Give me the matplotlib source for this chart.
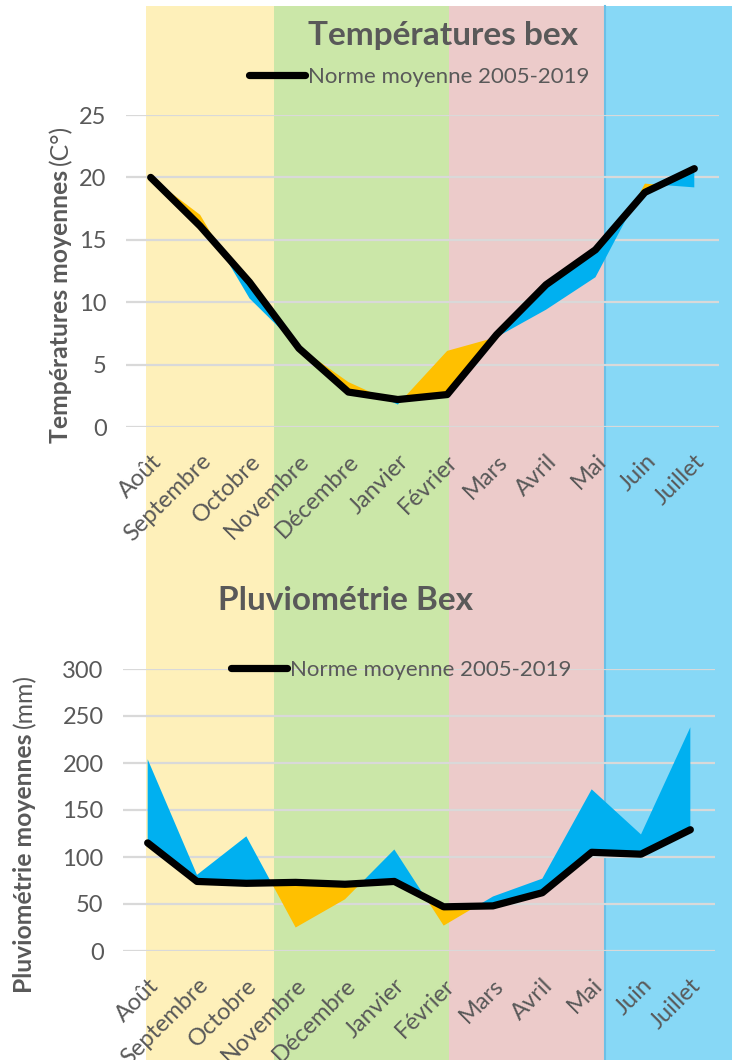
import matplotlib
matplotlib.use("Agg")
import matplotlib.pyplot as plt
from matplotlib.lines import Line2D
import numpy as np

plt.rcParams['font.family'] = ['Lato', 'DejaVu Sans']

months = ['Août', 'Septembre', 'Octobre', 'Novembre', 'Décembre', 'Janvier',
          'Février', 'Mars', 'Avril', 'Mai', 'Juin', 'Juillet']
temp_norm = [20.0, 16.1, 11.6, 6.3, 2.8, 2.2, 2.6, 7.4, 11.4, 14.2, 18.8, 20.7]
temp_year = [20.0, 17.0, 10.3, 6.4, 3.6, 1.8, 6.1, 7.2, 9.4, 12.0, 19.5, 19.2]
rain_norm = [115, 74, 72, 73, 71, 74, 47, 48, 62, 105, 103, 129]
rain_year = [204, 81, 122, 25, 55, 108, 27, 58, 77, 172, 124, 238]
temp_ticks = [0, 5, 10, 15, 20, 25]
rain_ticks = [0, 50, 100, 150, 200, 250, 300]
legend_label = 'Norme moyenne 2005-2019'

W, H = 732, 1060
fig = plt.figure(figsize=(W / 100, H / 100), dpi=100)

GREY = '#595959'
ORANGE = '#FFC000'
BLUE = '#00B0F0'

# background season bands (figure pixel layout)
bg = fig.add_axes([0, 0, 1, 1])
bg.set_xlim(0, W)
bg.set_ylim(H, 0)
bg.axis('off')
bands = [(146, 274, '#FEF0BA'), (274, 449, '#CBE7A8'),
         (449, 604, '#ECCBCA'), (604, 732, '#87D8F6')]
for x0, x1, c in bands:
    bg.fill_between([x0, x1], 6, H, color=c, lw=0)
bg.plot([604.5, 604.5], [6, H], color='#6CC0E6', lw=1.5)


def px_axes(left, right, top, bottom):
    return fig.add_axes([left / W, 1 - bottom / H, (right - left) / W, (bottom - top) / H])


def style(ax, ticks, ymax):
    x = np.arange(len(months))
    ax.set_xlim(-0.5, len(months) - 0.5)
    ax.set_ylim(0, ymax)
    ax.patch.set_alpha(0)
    for s in ax.spines.values():
        s.set_visible(False)
    ax.set_yticks(ticks)
    ax.set_yticklabels([str(t) for t in ticks])
    ax.yaxis.grid(True, color='#D9D9D9', lw=1.6)
    ax.set_axisbelow(True)
    ax.tick_params(axis='both', length=0, colors=GREY, labelsize=17)
    ax.tick_params(axis='y', pad=14)
    ax.set_xticks(x)
    ax.set_xticklabels(months, rotation=45, ha='right', va='top',
                       rotation_mode='anchor')
    ax.tick_params(axis='x', pad=17)


def draw(ax, norm, year, above_color, below_color):
    x = np.arange(len(months))
    n = np.array(norm, float)
    y = np.array(year, float)
    ax.fill_between(x, n, y, where=y >= n, interpolate=True, color=above_color, lw=0, zorder=2)
    ax.fill_between(x, n, y, where=y <= n, interpolate=True, color=below_color, lw=0, zorder=2)
    ax.plot(x, n, color='black', lw=5.2, solid_capstyle='round',
            solid_joinstyle='round', zorder=3)


def legend(ax, cx, cy):
    h = Line2D([0], [0], color='black', lw=5.2, solid_capstyle='round')
    ax.legend([h], [legend_label], loc='center', bbox_to_anchor=(cx, cy),
              frameon=False, fontsize=16, handlelength=2.5, handletextpad=0.15,
              labelcolor=GREY, borderpad=0)


# ---- Temperatures ----
ax1 = px_axes(126, 719, 115, 427)
style(ax1, temp_ticks, 25)
draw(ax1, temp_norm, temp_year, ORANGE, BLUE)
legend(ax1, 0.495, 1.122)

# ---- Rain ----
ax2 = px_axes(123, 715, 669, 951)
style(ax2, rain_ticks, 300)
draw(ax2, rain_norm, rain_year, BLUE, ORANGE)
legend(ax2, 0.47, 0.996)

# titles
fig.text(443 / W, 1 - 35 / H, 'Températures bex', ha='center', va='center',
         fontsize=24, fontweight='bold', color=GREY)
fig.text(345 / W, 1 - 600 / H, 'Pluviométrie Bex', ha='center', va='center',
         fontsize=24, fontweight='bold', color=GREY)

# y labels (bold + regular)
fig.canvas.draw()
renderer = fig.canvas.get_renderer()


def ylabel(x, y0, bold, regular):
    t = fig.text(x / W, 1 - y0 / H, bold, rotation=90, ha='center', va='bottom',
                 fontsize=17.8, fontweight='bold', color=GREY)
    bb = t.get_window_extent(renderer)
    fig.text(x / W, (bb.y1 + 5) / H, regular, rotation=90, ha='center', va='bottom',
             fontsize=17.8, color=GREY)


ylabel(61, 443, 'Températures moyennes', '(C°)')
ylabel(25, 993, 'Pluviométrie moyennes', '(mm)')

fig.savefig('out.png', dpi=100)
